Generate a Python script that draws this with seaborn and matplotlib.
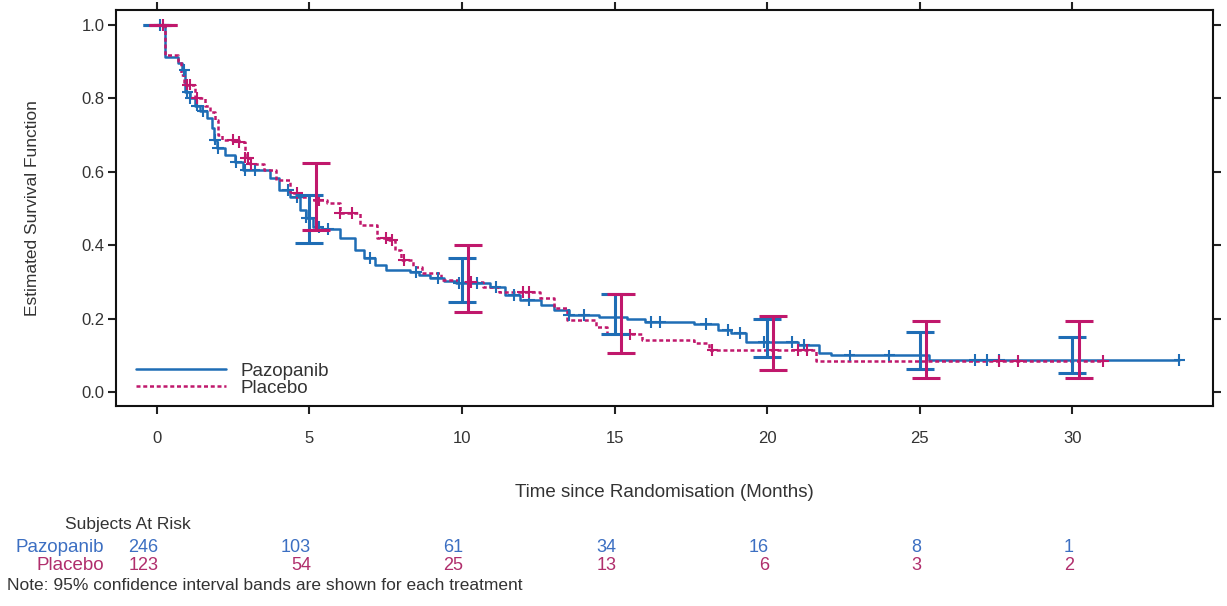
import numpy as np
import pandas as pd
import matplotlib
matplotlib.use("Agg")
import matplotlib.pyplot as plt
from matplotlib.transforms import blended_transform_factory
import seaborn as sns

# --- Kaplan-Meier step curves ---
paz_t = [0, 0.26, 0.69, 0.82, 0.92, 1.08, 1.25, 1.4, 1.64, 1.8, 1.87, 1.97, 2.23, 2.56,
         2.82, 3.7, 4.0, 4.36, 4.69, 4.9, 5.1, 5.4, 6.0, 6.5, 6.8, 7.15, 7.5, 8.3, 8.6,
         8.95, 9.4, 9.8, 10.9, 11.4, 11.9, 12.6, 13.0, 13.5, 14.5, 15.4, 16.0, 17.6,
         18.4, 18.8, 19.3, 21.0, 21.7, 22.1, 25.3, 33.5]
paz_s = [1.0, 0.913, 0.896, 0.877, 0.817, 0.80, 0.78, 0.765, 0.745, 0.72, 0.687, 0.665,
         0.646, 0.627, 0.605, 0.583, 0.55, 0.53, 0.495, 0.475, 0.45, 0.444, 0.42, 0.387,
         0.365, 0.346, 0.332, 0.327, 0.319, 0.31, 0.303, 0.297, 0.286, 0.264, 0.25,
         0.237, 0.223, 0.21, 0.205, 0.2, 0.19, 0.185, 0.169, 0.16, 0.136, 0.128, 0.106,
         0.1, 0.087, 0.087]

pla_t = [0, 0.26, 0.69, 0.8, 0.9, 1.25, 1.57, 1.75, 1.9, 2.0, 2.13, 2.7, 2.9, 3.05, 3.5,
         3.9, 4.36, 4.69, 5.0, 5.57, 6.0, 6.65, 7.2, 7.6, 7.8, 8.0, 8.4, 8.7, 9.3, 10.0,
         10.7, 11.2, 12.55, 13.0, 13.45, 14.4, 14.75, 15.9, 17.6, 18.1, 21.6, 31.0]
pla_s = [1.0, 0.918, 0.9, 0.864, 0.837, 0.80, 0.78, 0.763, 0.74, 0.70, 0.687, 0.68,
         0.638, 0.62, 0.605, 0.578, 0.542, 0.531, 0.523, 0.515, 0.488, 0.455, 0.42,
         0.414, 0.387, 0.36, 0.34, 0.324, 0.305, 0.30, 0.286, 0.272, 0.256, 0.229,
         0.196, 0.177, 0.157, 0.142, 0.133, 0.114, 0.084, 0.084]

# censored observations (times only)
paz_cens = [0.1, 0.9, 1.0, 1.1, 1.3, 1.5, 1.9, 2.0, 2.6, 2.9, 3.2, 4.3, 4.6, 4.9, 5.0,
            5.3, 5.6, 7.0, 8.5, 9.2, 9.9, 10.5, 11.1, 11.7, 12.2, 13.5, 14.0, 16.2,
            16.5, 18.0, 18.7, 19.1, 19.9, 20.8, 21.2, 22.7, 24.0, 26.8, 27.2, 27.6, 33.5]
pla_cens = [0.2, 1.0, 1.1, 1.3, 2.5, 2.7, 2.9, 3.0, 3.1, 4.6, 5.3, 6.0, 6.4, 7.5, 7.7,
            8.1, 10.3, 12.0, 12.2, 15.5, 18.2, 20.2, 21.0, 21.3, 27.6, 28.2, 31.0]

# 95% CI at fixed times
ci_t = [0, 5, 10, 15, 20, 25, 30]
paz_ci_lo = [1.0, 0.406, 0.245, 0.158, 0.095, 0.062, 0.052]
paz_ci_hi = [1.0, 0.537, 0.365, 0.267, 0.199, 0.163, 0.150]
pla_ci_lo = [1.0, 0.441, 0.218, 0.106, 0.060, 0.038, 0.038]
pla_ci_hi = [1.0, 0.624, 0.400, 0.267, 0.207, 0.194, 0.194]

# subjects at risk
risk_t = [0, 5, 10, 15, 20, 25, 30]
paz_risk = [246, 103, 61, 34, 16, 8, 1]
pla_risk = [123, 54, 25, 13, 6, 3, 2]

BLUE = "#1f6db5"
MAG = "#c0186c"
BLUE_TXT = "#3c6fc2"
MAG_TXT = "#b02e6c"
TXT = "#333333"


def step_value(times, surv, t):
    idx = np.searchsorted(times, t, side="right") - 1
    return np.asarray(surv)[idx]


sns.set_theme(style="ticks")
plt.rcParams["font.family"] = ["Liberation Sans", "DejaVu Sans"]

fig = plt.figure(figsize=(12.27, 6.06), dpi=100)
ax = fig.add_axes([0.0945, 0.33, 0.894, 0.6535])

curves = pd.concat([
    pd.DataFrame({"t": paz_t, "s": paz_s, "arm": "Pazopanib"}),
    pd.DataFrame({"t": pla_t, "s": pla_s, "arm": "Placebo"}),
])

sns.lineplot(data=curves[curves.arm == "Pazopanib"], x="t", y="s", ax=ax,
             estimator=None, sort=False, drawstyle="steps-post",
             color=BLUE, lw=1.8, label="Pazopanib")
sns.lineplot(data=curves[curves.arm == "Placebo"], x="t", y="s", ax=ax,
             estimator=None, sort=False, drawstyle="steps-post",
             color=MAG, lw=1.8, linestyle=(0, (1.6, 1.1)),
             label="Placebo")

cens = pd.concat([
    pd.DataFrame({"t": paz_cens, "s": step_value(paz_t, paz_s, paz_cens), "arm": "Pazopanib"}),
    pd.DataFrame({"t": pla_cens, "s": step_value(pla_t, pla_s, pla_cens), "arm": "Placebo"}),
])
sns.scatterplot(data=cens, x="t", y="s", hue="arm", palette={"Pazopanib": BLUE, "Placebo": MAG},
                marker="+", s=70, linewidth=1.5, ax=ax, legend=False, zorder=4)

# confidence interval bars (placebo slightly shifted right)
for t, lo, hi, col, dx in ([(t, l, h, BLUE, 0.0) for t, l, h in zip(ci_t, paz_ci_lo, paz_ci_hi)] +
                           [(t, l, h, MAG, 0.2) for t, l, h in zip(ci_t, pla_ci_lo, pla_ci_hi)]):
    mid = step_value(paz_t if col == BLUE else pla_t, paz_s if col == BLUE else pla_s, t + dx)
    ax.errorbar([t + dx], [mid], yerr=[[mid - lo], [hi - mid]], fmt="none",
                ecolor=col, elinewidth=2.2, capsize=10, capthick=2.2, zorder=5)

ax.set_xlim(-1.34, 34.6)
ax.set_ylim(-0.038, 1.04)
ax.set_xticks([0, 5, 10, 15, 20, 25, 30])
ax.set_yticks([0.0, 0.2, 0.4, 0.6, 0.8, 1.0])
ax.set_yticklabels(["0.0", "0.2", "0.4", "0.6", "0.8", "1.0"])
ax.tick_params(axis="both", which="both", direction="out", length=6, width=1.5,
               labelsize=12, colors="#222222", labelcolor=TXT, top=True, right=True, pad=2)
ax.tick_params(axis="x", pad=12)
for sp in ax.spines.values():
    sp.set_visible(True)
    sp.set_linewidth(1.5)
    sp.set_color("#111111")

ax.set_xlabel("Time since Randomisation (Months)", fontsize=13.5, labelpad=27, color=TXT)
ax.set_ylabel("Estimated Survival Function", fontsize=12.5, labelpad=30, color=TXT)

leg = ax.legend(loc="lower left", frameon=False, fontsize=13.5, handlelength=4.8,
                handletextpad=0.8, labelspacing=0.0, borderaxespad=0.2,
                bbox_to_anchor=(0.008, -0.005))
for txt in leg.get_texts():
    txt.set_color(TXT)

# subjects at risk table
tr = blended_transform_factory(ax.transData, fig.transFigure)
fig.text(0.053, 1 - 525 / 606, "Subjects At Risk", fontsize=12.5, va="center", color=TXT)
fig.text(0.085, 1 - 547 / 606, "Pazopanib", fontsize=13.5, va="center", ha="right", color=BLUE_TXT)
fig.text(0.085, 1 - 566 / 606, "Placebo", fontsize=13.5, va="center", ha="right", color=MAG_TXT)
for t, a, b in zip(risk_t, paz_risk, pla_risk):
    ax.text(t + 0.05, 1 - 547 / 606, str(a), transform=tr, fontsize=13, va="center", ha="right",
            color=BLUE_TXT)
    ax.text(t + 0.05, 1 - 566 / 606, str(b), transform=tr, fontsize=13, va="center", ha="right",
            color=MAG_TXT)
fig.text(0.006, 1 - 585 / 606, "Note: 95% confidence interval bands are shown for each treatment",
         fontsize=12.5, va="center", color=TXT)

fig.savefig("out.png", dpi=100)
